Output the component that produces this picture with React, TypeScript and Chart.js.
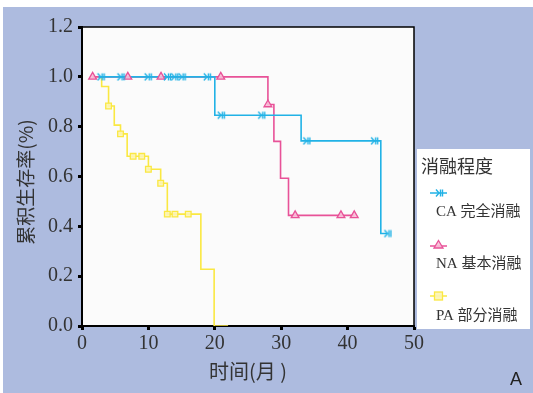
import { useEffect, useRef } from 'react';
import { Chart, registerables } from 'chart.js';

Chart.register(...registerables);

// Time axis ticks (months) and survival ticks
const xTickValues = [0, 10, 20, 30, 40, 50];
const yTickValues = [0, 0.2, 0.4, 0.6, 0.8, 1.0, 1.2];

// CA 完全消融 – step curve (time, survival)
const caTime = [2.5, 20.0, 33.0, 45.0, 46.0];
const caSurv = [1.0, 0.846, 0.743, 0.371, 0.371];
const caCensorTime = [2.8, 5.8, 9.9, 12.8, 13.9, 15.0, 18.8, 20.9, 27.0, 33.8, 44.0, 46.0];
const caCensorSurv = [1, 1, 1, 1, 1, 1, 1, 0.846, 0.846, 0.743, 0.743, 0.371];

// NA 基本消融
const naTime = [1.6, 28.0, 28.9, 29.9, 31.1, 41.0];
const naSurv = [1.0, 0.889, 0.741, 0.593, 0.444, 0.444];
const naCensorTime = [1.6, 6.9, 11.9, 20.9, 28.0, 32.1, 39.0, 41.0];
const naCensorSurv = [1, 1, 1, 1, 0.889, 0.444, 0.444, 0.444];

// PA 部分消融
const paTime = [2.5, 2.96, 4.0, 4.86, 5.8, 6.8, 10.0, 11.85, 12.85, 17.9, 19.9, 22.0];
const paSurv = [1.0, 0.961, 0.883, 0.806, 0.771, 0.681, 0.629, 0.573, 0.449, 0.228, 0, 0];
const paCensorTime = [4.0, 5.8, 7.7, 9.0, 10.0, 11.85, 12.85, 14.0, 16.0];
const paCensorSurv = [0.883, 0.771, 0.681, 0.681, 0.629, 0.573, 0.449, 0.449, 0.449];

const legendTitle = '消融程度';
const groupLabels = ['CA 完全消融', 'NA 基本消融', 'PA 部分消融'];
const xTitle = '时间(月 )';
const yTitle = '累积生存率(%)';
const panelLabel = 'A';

const BLUE = 'rgb(33,178,230)';
const PINK = 'rgb(232,82,152)';
const YELLOW = 'rgb(250,232,66)';

const toPts = (xs: number[], ys: number[]) => xs.map((x, i) => ({ x, y: ys[i] }));

function makeArrow(color: string) {
  const c = document.createElement('canvas');
  c.width = 10;
  c.height = 10;
  const g = c.getContext('2d')!;
  g.strokeStyle = color;
  g.lineWidth = 1.4;
  g.beginPath();
  g.moveTo(2, 1.5);
  g.lineTo(5, 5);
  g.lineTo(2, 8.5);
  g.moveTo(6.5, 1.5);
  g.lineTo(6.5, 8.5);
  g.moveTo(8.5, 1.5);
  g.lineTo(8.5, 8.5);
  g.stroke();
  return c;
}

function drawTri(ctx: CanvasRenderingContext2D, x: number, y: number, color: string) {
  ctx.save();
  ctx.strokeStyle = color;
  ctx.fillStyle = 'rgba(248,190,215,0.9)';
  ctx.lineWidth = 1.3;
  ctx.beginPath();
  ctx.moveTo(x, y - 4.5);
  ctx.lineTo(x + 4.5, y + 3);
  ctx.lineTo(x - 4.5, y + 3);
  ctx.closePath();
  ctx.fill();
  ctx.stroke();
  ctx.restore();
}

function drawSq(ctx: CanvasRenderingContext2D, x: number, y: number, color: string) {
  ctx.save();
  ctx.strokeStyle = color;
  ctx.fillStyle = 'rgba(252,244,180,0.9)';
  ctx.lineWidth = 1.3;
  ctx.fillRect(x - 4, y - 4, 8, 8);
  ctx.strokeRect(x - 4, y - 4, 8, 8);
  ctx.restore();
}

export default function App() {
  const ref = useRef<HTMLCanvasElement>(null);

  useEffect(() => {
    const canvas = ref.current!;
    const arrow = makeArrow(BLUE);

    const decor = {
      id: 'decor',
      beforeDraw(chart: any) {
        const { ctx, chartArea: a } = chart;
        ctx.save();
        ctx.fillStyle = '#ffffff';
        ctx.fillRect(0, 0, 533, 393);
        ctx.fillStyle = '#adbbdf';
        ctx.fillRect(3, 7, 530, 386);
        ctx.fillStyle = '#fbfbfb';
        ctx.fillRect(a.left, a.top, a.right - a.left, a.bottom - a.top);
        ctx.restore();
      },
      afterDraw(chart: any) {
        const { ctx, chartArea: a } = chart;
        ctx.save();
        // frame top/right
        ctx.strokeStyle = '#000';
        ctx.lineWidth = 1.5;
        ctx.beginPath();
        ctx.moveTo(a.left, a.top);
        ctx.lineTo(a.right, a.top);
        ctx.lineTo(a.right, a.bottom);
        ctx.stroke();

        // axis titles
        ctx.fillStyle = '#333';
        ctx.font = '20px "Noto Sans CJK SC"';
        ctx.textAlign = 'center';
        ctx.textBaseline = 'middle';
        ctx.fillText(xTitle, (a.left + a.right) / 2, 371);
        ctx.save();
        ctx.translate(26, 182);
        ctx.rotate(-Math.PI / 2);
        ctx.font = '19px "Noto Sans CJK SC"';
        ctx.fillText(yTitle, 0, 0);
        ctx.restore();

        // legend box
        ctx.fillStyle = '#ffffff';
        ctx.fillRect(417, 149, 113, 180);
        ctx.fillStyle = '#333';
        ctx.textAlign = 'left';
        ctx.font = '18px "Noto Sans CJK SC"';
        ctx.fillText(legendTitle, 421, 166);
        const colors = [BLUE, PINK, YELLOW];
        const markerY = [193, 246, 296];
        const textY = [212, 264, 316];
        colors.forEach((col, i) => {
          ctx.strokeStyle = col;
          ctx.lineWidth = 1.5;
          ctx.beginPath();
          ctx.moveTo(430, markerY[i]);
          ctx.lineTo(447, markerY[i]);
          ctx.stroke();
          if (i === 0) ctx.drawImage(arrow, 434, markerY[i] - 5);
          if (i === 1) drawTri(ctx, 438.5, markerY[i] - 1, col);
          if (i === 2) drawSq(ctx, 438.5, markerY[i], col);
          ctx.fillStyle = '#333';
          ctx.font = '15px "Liberation Serif", "Noto Sans CJK SC"';
          ctx.fillText(groupLabels[i], 436, textY[i]);
        });

        // panel label
        ctx.fillStyle = '#222';
        ctx.font = '18px "Liberation Sans"';
        ctx.textAlign = 'center';
        ctx.fillText(panelLabel, 516, 380);
        ctx.restore();
      },
    };

    const lineDs = (data: any[], color: string, order: number) => ({
      type: 'line' as const,
      data,
      borderColor: color,
      borderWidth: 1.6,
      stepped: 'before' as const,
      pointRadius: 0,
      fill: false,
      order,
    });

    const chart = new Chart(canvas, {
      type: 'line',
      data: {
        datasets: [
          { ...lineDs(toPts(caTime, caSurv), BLUE, 2) },
          { ...lineDs(toPts(naTime, naSurv), PINK, 3) },
          { ...lineDs(toPts(paTime, paSurv), YELLOW, 4) },
          {
            type: 'scatter' as const,
            data: toPts(paCensorTime, paCensorSurv),
            showLine: false,
            pointStyle: 'rect',
            pointRadius: 4,
            borderColor: YELLOW,
            backgroundColor: 'rgba(252,244,180,0.9)',
            borderWidth: 1.3,
            order: 1,
          },
          {
            type: 'scatter' as const,
            data: toPts(naCensorTime, naCensorSurv),
            showLine: false,
            pointStyle: 'triangle',
            pointRadius: 4.5,
            borderColor: PINK,
            backgroundColor: 'rgba(248,190,215,0.9)',
            borderWidth: 1.3,
            order: 1,
          },
          {
            type: 'scatter' as const,
            data: toPts(caCensorTime, caCensorSurv),
            showLine: false,
            pointStyle: arrow,
            pointRadius: 5,
            borderColor: BLUE,
            backgroundColor: BLUE,
            order: 0,
          },
        ] as any,
      },
      options: {
        responsive: false,
        animation: false,
        events: [],
        layout: { padding: { left: 0, right: 119, top: 27, bottom: 0 } },
        plugins: { legend: { display: false }, tooltip: { enabled: false }, title: { display: false } },
        scales: {
          x: {
            type: 'linear',
            min: 0,
            max: 50,
            afterBuildTicks: (s: any) => {
              s.ticks = xTickValues.map((v) => ({ value: v }));
            },
            afterFit: (s: any) => {
              s.height = 67;
            },
            ticks: {
              color: '#333',
              font: { family: '"Liberation Serif"', size: 20 },
              padding: 2,
              maxRotation: 0,
              callback: (v: any) => String(v),
            },
            grid: {
              display: true,
              drawOnChartArea: false,
              drawTicks: true,
              tickLength: 4,
              tickWidth: 3,
              tickColor: '#000',
            },
            border: { display: true, color: '#000', width: 2 },
          },
          y: {
            type: 'linear',
            min: 0,
            max: 1.2,
            afterBuildTicks: (s: any) => {
              s.ticks = yTickValues.map((v) => ({ value: v }));
            },
            afterFit: (s: any) => {
              s.width = 82;
            },
            ticks: {
              color: '#333',
              font: { family: '"Liberation Serif"', size: 20 },
              padding: 5,
              callback: (v: any) => Number(v).toFixed(1),
            },
            grid: {
              display: true,
              drawOnChartArea: false,
              drawTicks: true,
              tickLength: 4,
              tickWidth: 3,
              tickColor: '#000',
            },
            border: { display: true, color: '#000', width: 2 },
          },
        },
      },
      plugins: [decor],
    });

    return () => chart.destroy();
  }, []);

  return (
    <div style={{ position: 'fixed', left: 0, top: 0, width: 533, height: 393 }}>
      <canvas ref={ref} width={533} height={393} style={{ width: 533, height: 393, display: 'block' }} />
    </div>
  );
}
